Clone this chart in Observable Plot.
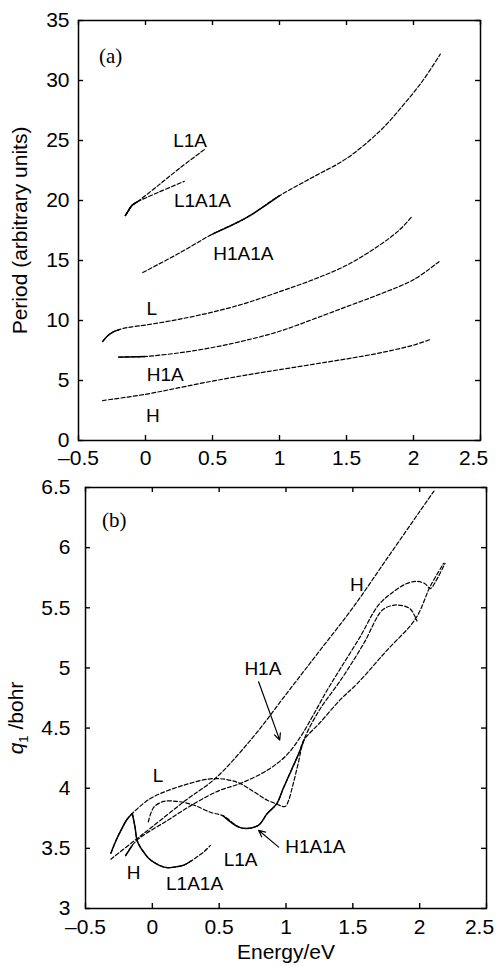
<!DOCTYPE html>
<html><head><meta charset="utf-8">
<script src="https://cdn.jsdelivr.net/npm/d3@7"></script>
<script src="https://cdn.jsdelivr.net/npm/@observablehq/plot@0.6"></script>
<style>
body{margin:0;background:#fff;}
#chart{width:497px;}
#chart svg{display:block;}
</style></head><body><div id="chart"></div>
<script>
// ---------- tick values ----------
const energyTicks = [-0.5, 0, 0.5, 1, 1.5, 2, 2.5];
const periodTicks = [0, 5, 10, 15, 20, 25, 30, 35];
const q1Ticks = [3, 3.5, 4, 4.5, 5, 5.5, 6, 6.5];

// ---------- panel (a): Period vs Energy ----------
const a_H_E = [-0.32, 0, 0.25, 0.5, 0.75, 1.0, 1.25, 1.5, 1.75, 2.0, 2.12];
const a_H_P = [3.33, 3.85, 4.4, 4.95, 5.45, 5.9, 6.35, 6.8, 7.3, 7.95, 8.4];
const a_H1A_E = [-0.2, -0.1, 0, 0.25, 0.5, 0.75, 1.0, 1.25, 1.5, 1.75, 2.0, 2.19];
const a_H1A_P = [6.95, 6.97, 7.0, 7.3, 7.75, 8.35, 9.1, 10.1, 11.15, 12.2, 13.4, 14.9];
const a_L_E = [-0.32, -0.28, -0.24, -0.2, -0.15, -0.08, 0, 0.25, 0.5, 0.75, 1.0, 1.25, 1.5, 1.75, 1.9, 1.99];
const a_L_P = [8.25, 8.75, 9.05, 9.22, 9.38, 9.5, 9.62, 10.1, 10.7, 11.45, 12.4, 13.4, 14.6, 16.3, 17.6, 18.7];
const a_H1A1A_E = [-0.02, 0.25, 0.5, 0.75, 1.0, 1.25, 1.5, 1.75, 1.92, 2.07, 2.2];
const a_H1A1A_P = [14.0, 15.6, 17.2, 18.55, 20.4, 21.95, 23.5, 25.8, 27.9, 30.0, 32.2];
const a_L1A_E = [-0.15, -0.125, -0.1, -0.065, 0.1, 0.25, 0.44];
const a_L1A_P = [18.75, 19.2, 19.6, 19.86, 21.3, 22.65, 24.25];
const a_L1A1A_E = [-0.15, -0.125, -0.1, -0.065, 0.1, 0.29];
const a_L1A1A_P = [18.75, 19.2, 19.6, 19.86, 20.7, 21.6];
// energy ranges drawn as solid line (rest dashed)
const a_solid = {L: [[-0.33, -0.16]], H1A: [[-0.21, 0.0]], H1A1A: [[0.45, 1.2]], L1A: [[-0.16, -0.06]], L1A1A: [[-0.16, -0.06]]};
const a_labels = ["(a)", "L1A", "L1A1A", "H1A1A", "L", "H1A", "H"];
const a_labelE = [-0.26, 0.333, 0.425, 0.73, 0.047, 0.147, 0.055];
const a_labelP = [32.0, 24.94, 19.94, 15.56, 10.97, 5.5, 2.08];

// ---------- panel (b): q1 vs Energy ----------
const b_H_E = [-0.31, -0.15, 0, 0.25, 0.47, 0.75, 1.0, 1.25, 1.5, 1.75, 2.0, 2.107];
const b_H_q = [3.41, 3.55, 3.68, 3.9, 4.08, 4.42, 4.78, 5.14, 5.5, 5.9, 6.3, 6.47];
const b_L_E = [-0.31, -0.27, -0.23, -0.19, -0.15, -0.07, 0.01, 0.235, 0.46, 0.634, 0.76, 0.86, 0.934, 0.97, 0.996, 1.02, 1.05, 1.09, 1.134, 1.25, 1.41, 1.58, 1.72, 1.8, 1.86, 1.93, 1.98];
const b_L_q = [3.46, 3.57, 3.66, 3.74, 3.79, 3.87, 3.93, 4.025, 4.08, 4.05, 3.97, 3.9, 3.867, 3.85, 3.85, 3.9, 4.02, 4.2, 4.4, 4.65, 4.9, 5.2, 5.48, 5.52, 5.52, 5.49, 5.39];
const b_H1A_E = [-0.2, -0.15, -0.09, 0.11, 0.31, 0.5, 0.66, 0.86, 1.0, 1.11, 1.2, 1.3, 1.41, 1.55, 1.69, 1.8, 1.9, 1.98, 2.04, 2.08, 2.12, 2.19];
const b_H1A_q = [3.44, 3.525, 3.59, 3.73, 3.87, 3.98, 4.04, 4.15, 4.27, 4.43, 4.6, 4.8, 5.0, 5.25, 5.52, 5.63, 5.7, 5.72, 5.7, 5.66, 5.72, 5.87];
const b_H1A1A_E = [-0.03, 0.01, 0.085, 0.185, 0.31, 0.434, 0.53, 0.664, 0.79, 0.86, 0.93, 0.98, 1.04, 1.1, 1.134, 1.25, 1.41, 1.533, 1.75, 1.97, 2.08, 2.18];
const b_H1A1A_q = [3.72, 3.84, 3.89, 3.89, 3.86, 3.80, 3.77, 3.67, 3.69, 3.79, 3.87, 4.0, 4.15, 4.3, 4.4, 4.54, 4.74, 4.87, 5.14, 5.41, 5.68, 5.87];
const b_L1A_E = [-0.15, -0.13, -0.115, -0.09, -0.065, -0.03, 0.01, 0.06, 0.11, 0.17, 0.235, 0.29, 0.335, 0.39, 0.434];
const b_L1A_q = [3.79, 3.68, 3.57, 3.51, 3.47, 3.42, 3.385, 3.355, 3.34, 3.345, 3.36, 3.395, 3.43, 3.475, 3.525];
const b_solid = {L: [[-0.32, -0.15]], L1A: [[-0.16, 0.33]], H1A1A: [[0.5, 1.16]], H1A: [[-0.21, -0.14]]};
const b_labels = ["(b)", "H", "H1A", "L", "H1A1A", "L1A", "H", "L1A1A"];
const b_labelE = [-0.284, 1.53, 0.827, 0.042, 1.22, 0.66, -0.14, 0.316];
const b_labelQ = [6.227, 5.69, 4.99, 4.1, 3.51, 3.4, 3.296, 3.206];
// arrows from labels to curves
const b_arrowFrom_E = [0.795, 0.945];
const b_arrowFrom_q = [4.885, 3.51];
const b_arrowTo_E = [0.953, 0.795];
const b_arrowTo_q = [4.4, 3.65];

// ---------- helpers ----------
function rows(name, E, Y, solid) {
  const ranges = solid[name] || [];
  return E.map((e, i) => ({name, E: e, y: Y[i], seg: ranges.findIndex(([a, b]) => e >= a && e <= b)}));
}
const fmt = d => d < 0 ? "\u2013" + Math.abs(d) : String(d);
const FONT = "'Liberation Sans', Arial, Helvetica, sans-serif";
const W = 497;
const TICKFONT = 21;

function panel({data, labels, xTicks, yTicks, yDomain, height, margins, yLabel, xLabel, yLabelOffset, yTickPad, xTickPad, arrows}) {
  const plotH = height - margins.top - margins.bottom;
  const plotW = W - margins.left - margins.right;
  const solid = data.filter(d => d.seg >= 0);
  const textLabels = labels.filter(d => !d.text.startsWith("("));
  const panelLabels = labels.filter(d => d.text.startsWith("("));
  const lastX = xTicks[xTicks.length - 1];
  const marks = [
    Plot.frame({stroke: "black", strokeWidth: 1.5}),
    // inward ticks on all four sides
    Plot.ruleX(xTicks, {x: d => d, insetTop: plotH - 5, strokeWidth: 1.4}),
    Plot.ruleX(xTicks, {x: d => d, insetBottom: plotH - 5, strokeWidth: 1.4}),
    Plot.ruleY(yTicks, {y: d => d, insetRight: plotW - 5, strokeWidth: 1.4}),
    Plot.ruleY(yTicks, {y: d => d, insetLeft: plotW - 5, strokeWidth: 1.4}),
    Plot.axisX({ticks: xTicks.slice(0, -1), tickSize: 0, tickPadding: xTickPad, tickFormat: fmt, fontSize: TICKFONT,
      label: xLabel, labelAnchor: "center", labelArrow: "none", labelOffset: 50}),
    Plot.axisX({ticks: [lastX], tickSize: 0, tickPadding: xTickPad, tickFormat: fmt, fontSize: TICKFONT, dx: -7, label: null}),
    Plot.axisY({ticks: yTicks, tickSize: 0, tickPadding: yTickPad, tickFormat: fmt, fontSize: TICKFONT,
      label: yLabel, labelAnchor: "center", labelArrow: "none", labelOffset: yLabelOffset}),
    Plot.line(data, {x: "E", y: "y", z: "name", curve: "catmull-rom", stroke: "black", strokeWidth: 1.2, strokeDasharray: "4,2.2"}),
    Plot.line(solid, {x: "E", y: "y", z: d => d.name + "-" + d.seg, curve: "catmull-rom", stroke: "black", strokeWidth: 1.45}),
    Plot.text(textLabels, {x: "E", y: "y", text: "text", fontSize: 19, fill: "black"}),
    Plot.text(panelLabels, {x: "E", y: "y", text: "text", fontSize: 21, fill: "black", fontFamily: "'Liberation Serif', 'Times New Roman', serif"})
  ];
  if (arrows) marks.push(Plot.arrow(arrows, {x1: "x1", y1: "y1", x2: "x2", y2: "y2", stroke: "black", strokeWidth: 1.2, headLength: 9, headAngle: 50}));
  return Plot.plot({
    width: W, height,
    marginTop: margins.top, marginBottom: margins.bottom, marginLeft: margins.left, marginRight: margins.right,
    x: {domain: [-0.5, 2.5], label: null},
    y: {domain: yDomain, label: null},
    style: {fontFamily: FONT, fontSize: "21px", color: "black", background: "white", overflow: "visible"},
    marks
  });
}

// ---------- panel (a) ----------
const aData = [
  ...rows("H", a_H_E, a_H_P, a_solid),
  ...rows("H1A", a_H1A_E, a_H1A_P, a_solid),
  ...rows("L", a_L_E, a_L_P, a_solid),
  ...rows("H1A1A", a_H1A1A_E, a_H1A1A_P, a_solid),
  ...rows("L1A", a_L1A_E, a_L1A_P, a_solid),
  ...rows("L1A1A", a_L1A1A_E, a_L1A1A_P, a_solid)
];
const aLabels = a_labels.map((t, i) => ({text: t, E: a_labelE[i], y: a_labelP[i]}));
const chartA = panel({
  data: aData, labels: aLabels, xTicks: energyTicks, yTicks: periodTicks, yDomain: [0, 35],
  height: 470, margins: {top: 20, bottom: 30, left: 78, right: 17},
  yLabel: "Period (arbitrary units)", xLabel: null, yLabelOffset: 66, yTickPad: 9, xTickPad: 10
});

// ---------- panel (b) ----------
const bData = [
  ...rows("H", b_H_E, b_H_q, b_solid),
  ...rows("L", b_L_E, b_L_q, b_solid),
  ...rows("H1A", b_H1A_E, b_H1A_q, b_solid),
  ...rows("H1A1A", b_H1A1A_E, b_H1A1A_q, b_solid),
  ...rows("L1A", b_L1A_E, b_L1A_q, b_solid)
];
const bLabels = b_labels.map((t, i) => ({text: t, E: b_labelE[i], y: b_labelQ[i]}));
const bArrows = b_arrowFrom_E.map((e, i) => ({x1: e, y1: b_arrowFrom_q[i], x2: b_arrowTo_E[i], y2: b_arrowTo_q[i]}));
const chartB = panel({
  data: bData, labels: bLabels, xTicks: energyTicks, yTicks: q1Ticks, yDomain: [3, 6.5],
  height: 496, margins: {top: 17, bottom: 58, left: 85, right: 11},
  yLabel: "q1 /bohr", xLabel: "Energy/eV", yLabelOffset: 77, yTickPad: 15, xTickPad: 11, arrows: bArrows
});

// italic q with subscript 1 in the y label of panel (b)
const yl = chartB.querySelector('[aria-label="y-axis label"] text');
if (yl) {
  yl.textContent = "";
  const ns = "http://www.w3.org/2000/svg";
  const t1 = document.createElementNS(ns, "tspan"); t1.textContent = "q"; t1.setAttribute("font-style", "italic");
  const t2 = document.createElementNS(ns, "tspan"); t2.textContent = "1"; t2.setAttribute("font-size", "13"); t2.setAttribute("dy", "5");
  const t3 = document.createElementNS(ns, "tspan"); t3.textContent = " /bohr"; t3.setAttribute("dy", "-5");
  yl.append(t1, t2, t3);
  const tr = yl.getAttribute("transform") || "";
  yl.setAttribute("transform", "translate(0,20) " + tr);
}

document.getElementById("chart").append(chartA, chartB);
</script>
</body></html>
